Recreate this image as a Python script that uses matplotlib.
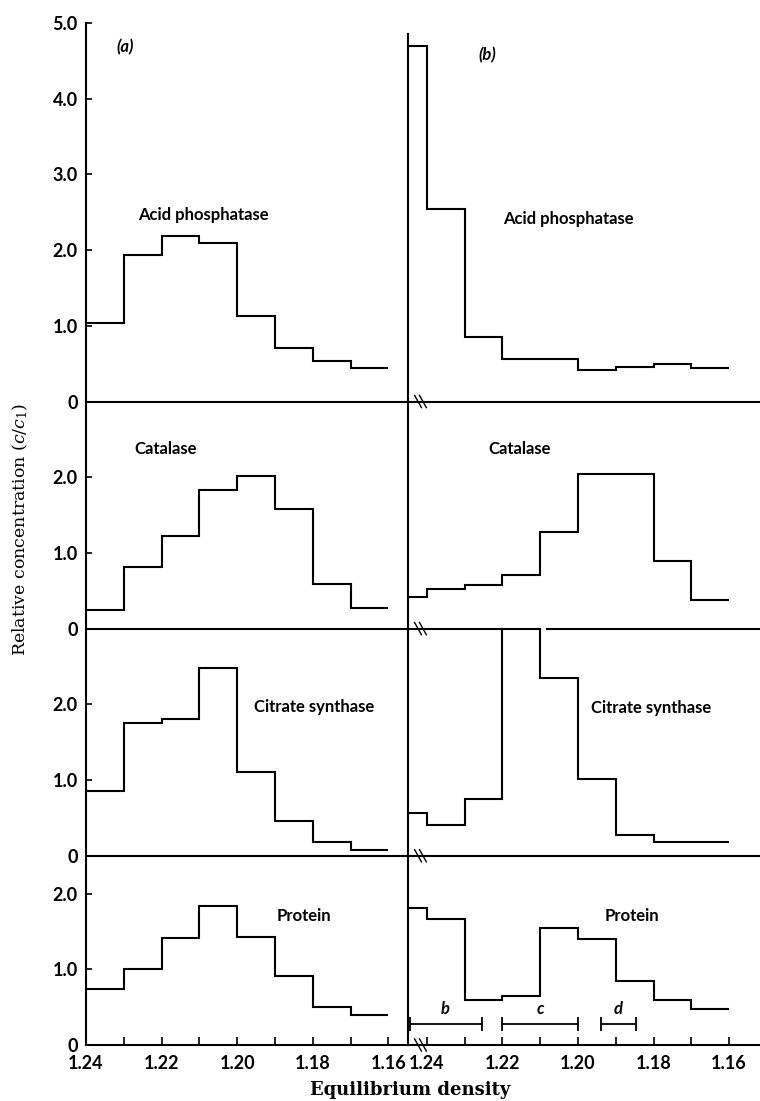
import numpy as np
import matplotlib.pyplot as plt

plt.rcParams['font.family'] = ['Lato', 'DejaVu Sans']
plt.rcParams['mathtext.fontset'] = 'dejavuserif'

# density bin edges: (a) eight fractions, (b) has an extra pellet fraction at the left
edges_a = [1.24, 1.23, 1.22, 1.21, 1.20, 1.19, 1.18, 1.17, 1.16]
edges_b = [1.245, 1.24, 1.23, 1.22, 1.21, 1.20, 1.19, 1.18, 1.17, 1.16]

enzymes = ['Acid phosphatase', 'Catalase', 'Citrate synthase', 'Protein']
section_ticks = [[0, 1, 2, 3, 4, 5], [0, 1, 2], [0, 1, 2], [0, 1, 2]]

acid_a = [1.04, 1.94, 2.18, 2.10, 1.13, 0.71, 0.54, 0.44]
catalase_a = [0.24, 0.81, 1.22, 1.83, 2.02, 1.58, 0.59, 0.27]
citrate_a = [0.85, 1.75, 1.80, 2.48, 1.11, 0.46, 0.18, 0.08]
protein_a = [0.74, 1.00, 1.41, 1.84, 1.43, 0.91, 0.50, 0.40]

acid_b = [4.69, 2.54, 0.85, 0.56, 0.56, 0.41, 0.45, 0.50, 0.44]
catalase_b = [0.42, 0.52, 0.58, 0.71, 1.27, 2.04, 2.04, 0.89, 0.38]
citrate_b = [0.57, 0.40, 0.75, 3.00, 2.35, 1.02, 0.27, 0.18, 0.18]
protein_b = [1.81, 1.67, 0.60, 0.65, 1.55, 1.40, 0.84, 0.60, 0.47]

fraction_names = ['b', 'c', 'd']
fraction_from = [1.2445, 1.22, 1.194]
fraction_to = [1.2255, 1.20, 1.1847]

# layout: stacked sections share one y axis
section_base = [8.5, 5.5, 2.5, 0.0]
label_pos_a = [(1.209, 2.46), (1.2188, 2.37), (1.1797, 1.96), (1.1823, 1.71)]
label_pos_b = [(1.2026, 2.41), (1.2153, 2.37), (1.1807, 1.95), (1.1857, 1.70)]

W, H = 760, 1101
fig = plt.figure(figsize=(W / 100, H / 100), dpi=100)
ax_a = fig.add_axes([86 / W, 56 / H, 322 / W, 1022 / H])
ax_b = fig.add_axes([408 / W, 56 / H, 352 / W, 1022 / H])

ax_a.set_xlim(1.24, 1.24 - 0.0852)
ax_b.set_xlim(1.24495, 1.24495 - 0.0931)
lw = 1.5

for ax, series, label_pos in [
    (ax_a, [acid_a, catalase_a, citrate_a, protein_a], label_pos_a),
    (ax_b, [acid_b, catalase_b, citrate_b, protein_b], label_pos_b),
]:
    edges = edges_a if ax is ax_a else edges_b
    ax.set_ylim(0, 13.5)
    for name, vals, base, (tx, ty) in zip(enzymes, series, section_base, label_pos):
        ax.stairs(np.array(vals[::-1]) + base, edges[::-1], baseline=None,
                  color='black', lw=lw)
        ax.text(tx, base + ty, name, ha='center', va='center',
                fontsize=12, fontweight='bold')
    for s in ['top', 'right']:
        ax.spines[s].set_visible(False)
    for s in ['left', 'bottom']:
        ax.spines[s].set_linewidth(lw)
    ax.set_xticks([1.24, 1.22, 1.20, 1.18, 1.16])
    ax.set_xticklabels(['1.24', '1.22', '1.20', '1.18', '1.16'])
    ax.set_xticks([1.23, 1.21, 1.19, 1.17], minor=True)
    ax.tick_params(axis='x', which='both', direction='in', length=6, width=1.2,
                   pad=7, labelsize=13)
    for lab in ax.get_xticklabels():
        lab.set_fontweight('bold')

# baselines between sections
ax_a.hlines(section_base[:-1], *ax_a.get_xlim(), color='black', lw=lw)
xl, xr = ax_b.get_xlim()
peak = int(np.argmax(citrate_b))
gap_l, gap_r = edges_b[peak] - 0.0005, edges_b[peak + 1] - 0.0015
ax_b.hlines([section_base[0], section_base[2]], xl, xr, color='black', lw=lw)
ax_b.hlines([section_base[1], section_base[1]], [xl, gap_r], [gap_l, xr],
            color='black', lw=lw)

# y ticks on left axis only
yt, yl = [], []
for base, ticks in zip(section_base, section_ticks):
    for t in ticks:
        yt.append(base + t)
        yl.append('0' if t == 0 else f'{t}.0')
ax_a.set_yticks(yt)
ax_a.set_yticklabels(yl)
ax_a.tick_params(axis='y', direction='in', length=4.5, width=1.2, pad=6,
                 labelsize=13)
for lab in ax_a.get_yticklabels():
    lab.set_fontweight('bold')
ax_b.set_yticks([])
ax_b.spines['left'].set_bounds(0, 13.35)

# axis break marks in panel (b)
for base in section_base:
    for x0 in [1.2423, 1.2410]:
        ax_b.plot([x0 + 0.0009, x0 - 0.0009], [base + 0.08, base - 0.08],
                  color='black', lw=1.0, clip_on=False)

# fraction bars under protein (b)
bar_y, cap = 0.28, 0.09
for name, x0, x1 in zip(fraction_names, fraction_from, fraction_to):
    ax_b.hlines(bar_y, x0, x1, color='black', lw=1.3)
    ax_b.vlines([x0, x1], bar_y - cap, bar_y + cap, color='black', lw=1.3)
    ax_b.text((x0 + x1) / 2, bar_y + 0.19, name, ha='center', va='center',
              fontsize=12, fontweight='bold', style='italic')

ax_a.text(1.2297, 13.18, '(a)', ha='center', va='center', fontsize=12,
          fontweight='bold', style='italic')
ax_b.text(1.224, 13.08, '(b)', ha='center', va='center', fontsize=12,
          fontweight='bold', style='italic')

fig.text(20 / W, 1 - 529 / H, r'Relative concentration ($c/c_1$)',
         rotation=90, ha='center', va='center', fontsize=12.5,
         family='DejaVu Serif')
fig.text(410 / W, 1 - 1090 / H, 'Equilibrium density', ha='center',
         va='center', fontsize=13, family='DejaVu Serif', fontweight='bold')

fig.savefig('out.png', dpi=100)
